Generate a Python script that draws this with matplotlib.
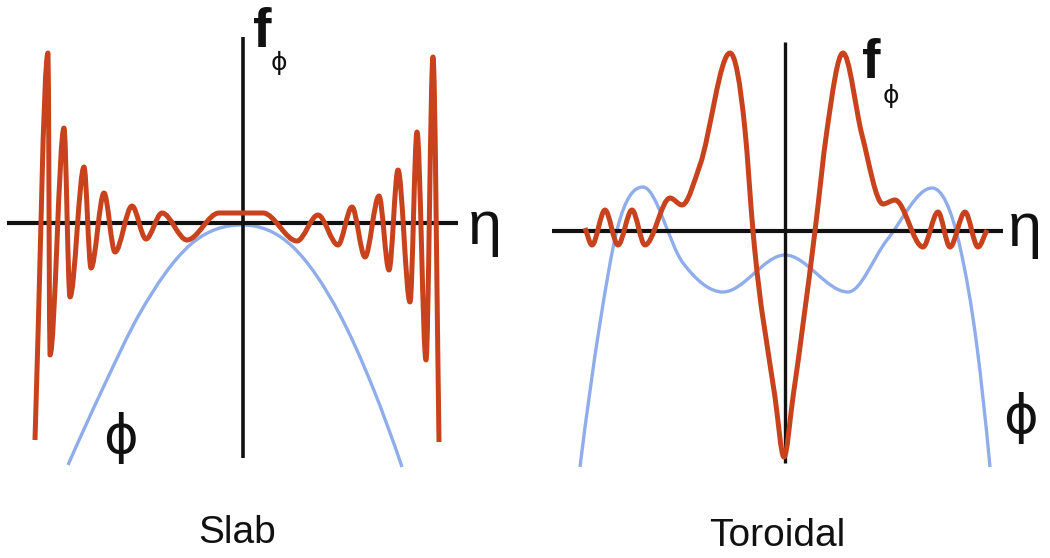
import numpy as np
import matplotlib
matplotlib.use("Agg")
import matplotlib.pyplot as plt
from matplotlib.path import Path
from matplotlib.patches import PathPatch

ORANGE = "#C8431D"
BLUE = "#8FADEB"
INK = "#111111"
FONT = ["Liberation Sans", "DejaVu Sans"]
GREEK = ["DejaVu Sans"]

# slab panel: turning points of f_phi and of phi (eta, value)
slab_eta = [-208, -195, -193, -179, -173, -159, -152, -139, -128, -111, -97, -81, -56,
            -24, 20, 54, 75, 95, 109, 122, 136, 146, 155, 167, 174, 183, 190, 196]
slab_f = [-217, 170, -132, 95, -74, 56, -45, 30, -29, 17, -16, 10, -17,
          10, 10, -18, 8, -22, 16, -34, 27, -47, 53, -79, 91, -137, 166, -219]
slab_phi_eta = [-175, -140, -103, -53, -1, 50, 97, 130, 159]
slab_phi = [-242, -165, -90, -22, -2, -24, -92, -165, -244]

# toroidal panel
tor_eta = [-200, -193, -180, -167, -153, -140, -115, -103, -85, -55, -40, -32, -10, -1,
           8, 30, 42, 58, 77, 98, 110, 138, 153, 165, 180, 193, 202]
tor_f = [3, -14, 21, -14, 21, -14, 33, 26, 66, 178, 101, 0, -166, -226,
         -166, 0, 101, 178, 96, 27, 31, -16, 19, -16, 19, -16, 1]
tor_phi_eta = [-205, -185, -168, -142, -102, -62, 0, 63, 102, 147, 175, 192, 205]
tor_phi = [-236, -92, 1, 44, -32, -61, -24, -61, -9, 43, -16, -116, -236]


def smooth_path(xs, ys, curved_ends=False):
    # cubic bezier through the points, flat at turning points
    x = np.asarray(xs, float)
    y = np.asarray(ys, float)
    h = np.diff(x)
    d = np.diff(y) / h
    n = len(x)
    m = np.zeros(n)
    for k in range(1, n - 1):
        if d[k - 1] * d[k] > 0:
            s = (h[k] * d[k - 1] + h[k - 1] * d[k]) / (h[k - 1] + h[k])
            lim = 3 * min(abs(d[k - 1]), abs(d[k]))
            m[k] = np.sign(s) * min(abs(s), lim)
    if curved_ends:
        m[0] = ((2 * h[0] + h[1]) * d[0] - h[0] * d[1]) / (h[0] + h[1])
        m[-1] = ((2 * h[-1] + h[-2]) * d[-1] - h[-1] * d[-2]) / (h[-1] + h[-2])
    else:
        m[0] = d[0]
        m[-1] = d[-1]
    verts = [(x[0], y[0])]
    codes = [Path.MOVETO]
    for k in range(n - 1):
        verts += [(x[k] + h[k] / 3, y[k] + m[k] * h[k] / 3),
                  (x[k + 1] - h[k] / 3, y[k + 1] - m[k + 1] * h[k] / 3),
                  (x[k + 1], y[k + 1])]
        codes += [Path.CURVE4] * 3
    return Path(verts, codes)


def curve(ax, xs, ys, color, lw, z, curved_ends=False):
    ax.add_patch(PathPatch(smooth_path(xs, ys, curved_ends), fill=False,
                           edgecolor=color, lw=lw, zorder=z,
                           capstyle="butt", joinstyle="round"))


fig = plt.figure(figsize=(10.5, 5.58), dpi=100)
fig.patch.set_facecolor("white")

# each panel is 1 unit = 1 pixel, origin at the axis crossing
ax1 = fig.add_axes([0, 0, 0.5, 1])
ax1.set_xlim(-243, 282)
ax1.set_ylim(-335, 223)
ax2 = fig.add_axes([0.5, 0, 0.5, 1])
ax2.set_xlim(-260, 265)
ax2.set_ylim(-327, 231)
for ax in (ax1, ax2):
    ax.axis("off")

# slab
ax1.plot([-236, 215], [0, 0], color=INK, lw=3.0, zorder=2, solid_capstyle="butt")
ax1.plot([0, 0], [186, -235], color=INK, lw=2.6, zorder=2, solid_capstyle="butt")
curve(ax1, slab_phi_eta, slab_phi, BLUE, 2.4, 1, curved_ends=True)
curve(ax1, slab_eta, slab_f, ORANGE, 3.6, 3)
ax1.text(10, 176, "f", fontsize=40, fontweight="bold", family=FONT, color=INK,
         ha="left", va="baseline")
ax1.text(36, 160, "ϕ", fontsize=18, family=GREEK, color=INK, ha="center", va="center")
ax1.text(225, -21, "η", fontsize=44, family=FONT, color=INK, ha="left", va="baseline")
ax1.text(-122, -215, "ϕ", fontsize=38, family=GREEK, color=INK, ha="center", va="center")

# toroidal
ax2.plot([-233, 218], [0, 0], color=INK, lw=3.0, zorder=2, solid_capstyle="butt")
ax2.plot([0, 0], [189, -232], color=INK, lw=2.4, zorder=2, solid_capstyle="butt")
curve(ax2, tor_phi_eta, tor_phi, BLUE, 2.4, 1, curved_ends=True)
curve(ax2, tor_eta, tor_f, ORANGE, 3.6, 3)
ax2.text(77, 153, "f", fontsize=40, fontweight="bold", family=FONT, color=INK,
         ha="left", va="baseline")
ax2.text(106, 135, "ϕ", fontsize=18, family=GREEK, color=INK, ha="center", va="center")
ax2.text(223, -15, "η", fontsize=44, family=FONT, color=INK, ha="left", va="baseline")
ax2.text(235, -187, "ϕ", fontsize=38, family=GREEK, color=INK, ha="center", va="center")

fig.text(237 / 1050, 1 - 543 / 558, "Slab", fontsize=28, family=FONT, color=INK,
         ha="center", va="baseline")
fig.text(777 / 1050, 1 - 546 / 558, "Toroidal", fontsize=28, family=FONT, color=INK,
         ha="center", va="baseline")

fig.savefig("out.png", dpi=100, facecolor="white")
